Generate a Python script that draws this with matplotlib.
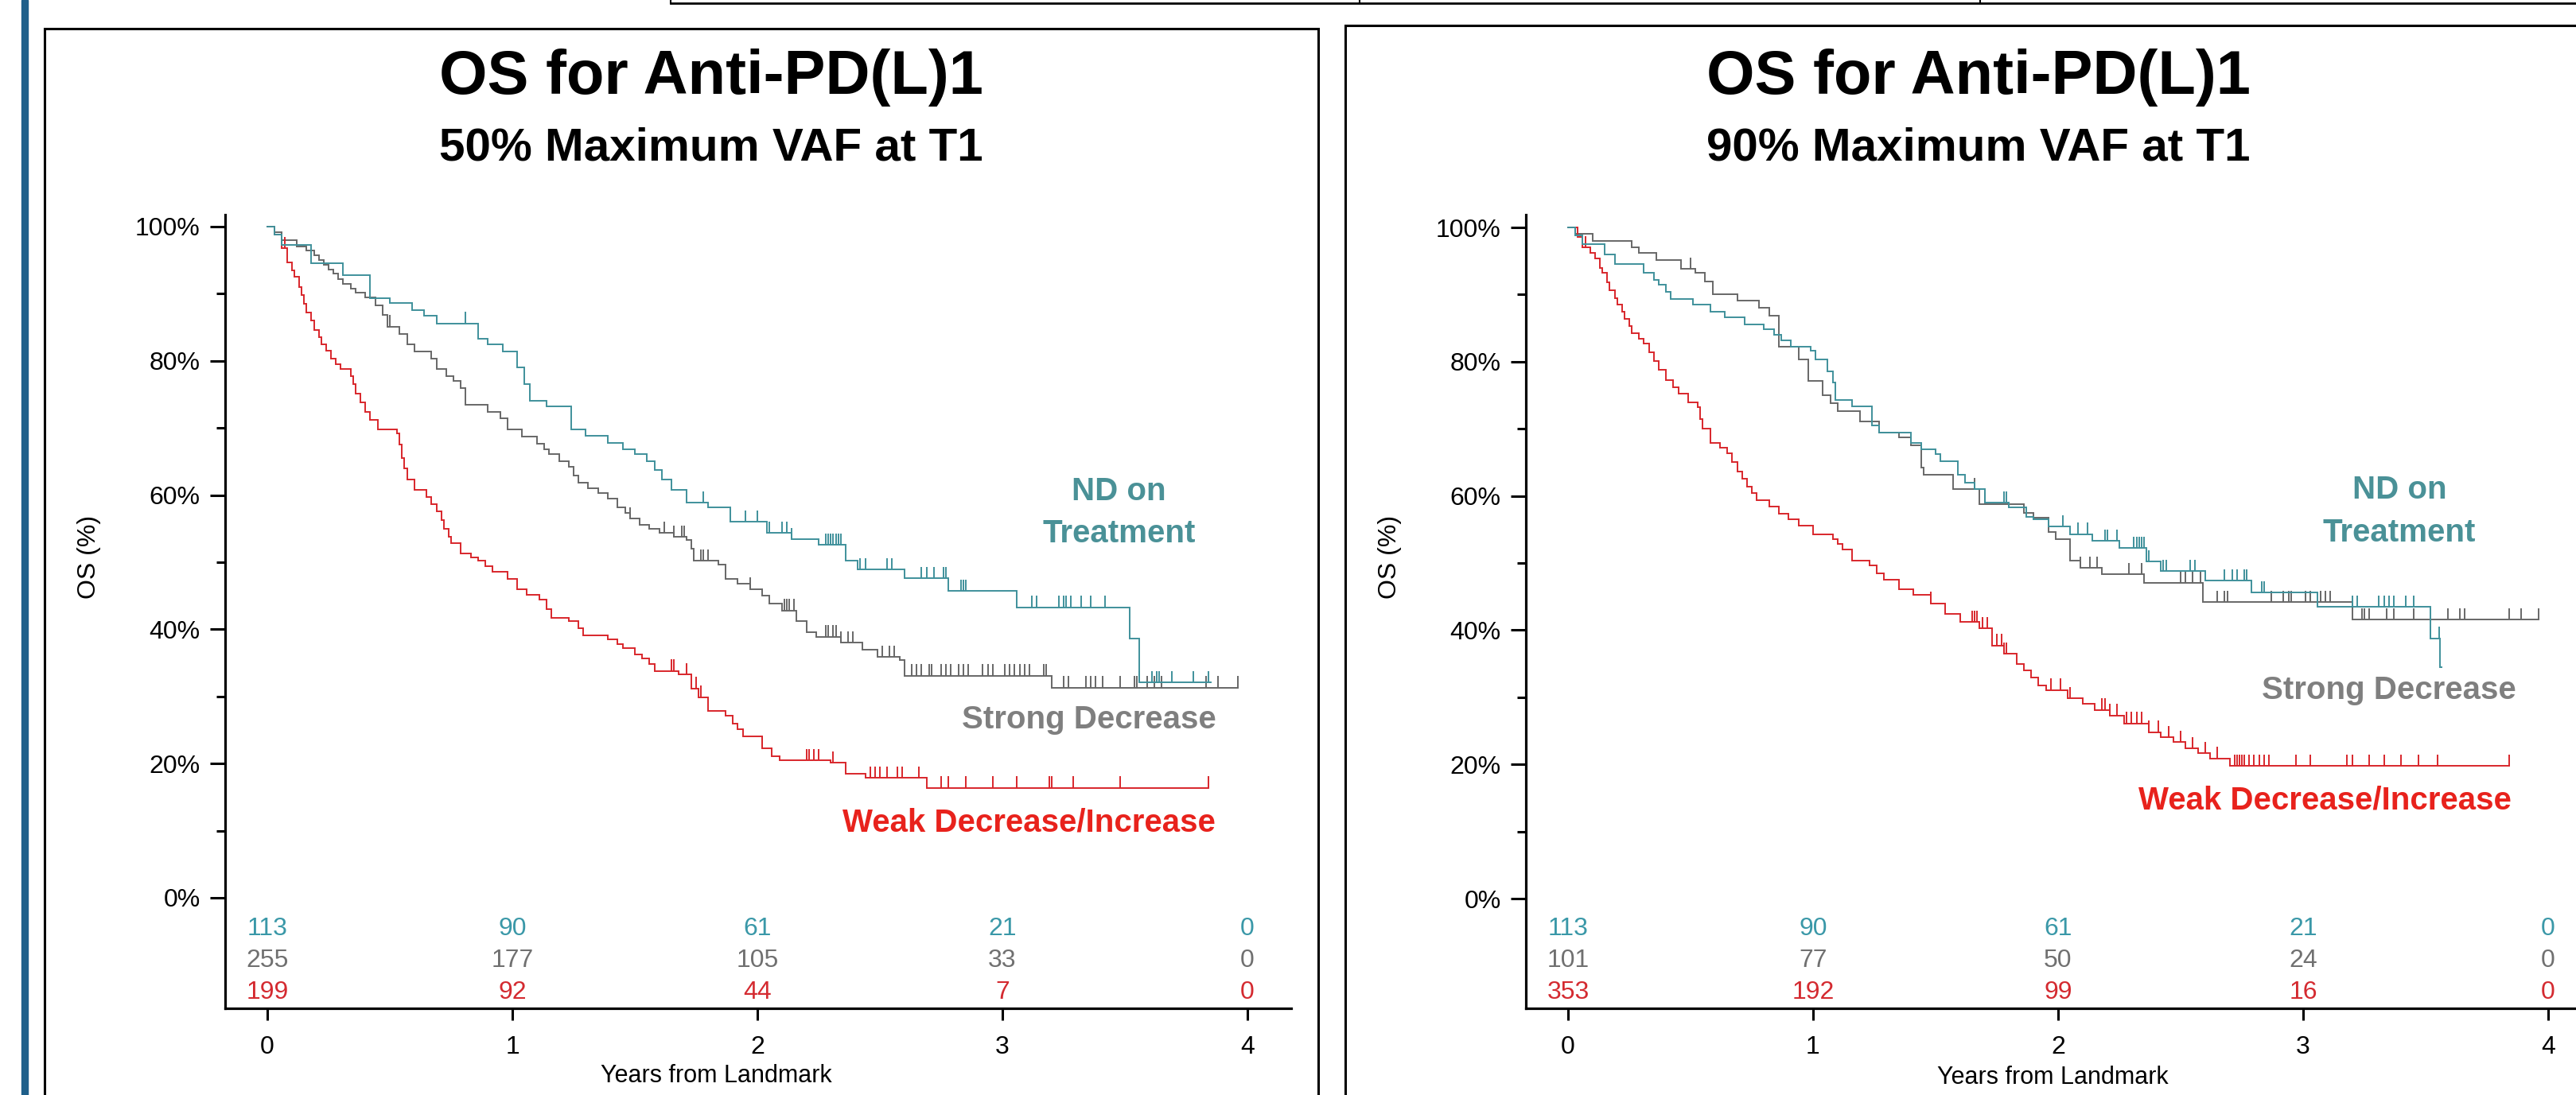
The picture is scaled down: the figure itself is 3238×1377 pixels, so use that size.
import numpy as np
import matplotlib
matplotlib.use("Agg")
import matplotlib.pyplot as plt
from matplotlib.patches import Rectangle
from matplotlib.lines import Line2D

plt.rcParams["font.family"] = ["Liberation Sans", "DejaVu Sans"]

W, H = 3238, 1377

# ---------------------------------
# Data: Kaplan-Meier steps (years, OS %)
# ---------------------------------
# Left panel: 50% Maximum VAF at T1
nd50_t = [0, 0.03, 0.06, 0.18, 0.31, 0.42, 0.50, 0.59, 0.64, 0.69, 0.86, 0.90, 0.96, 1.02, 1.05,
          1.07, 1.14, 1.24, 1.30, 1.39, 1.45, 1.50, 1.55, 1.58, 1.61, 1.65, 1.71, 1.80, 1.89, 2.04,
          2.14, 2.25, 2.36, 2.41, 2.60, 2.78, 3.06, 3.52, 3.56]
nd50_s = [100, 98.8, 97.3, 94.6, 92.8, 89.3, 88.6, 87.5, 86.7, 85.6, 83.3, 82.5, 81.4, 79.0, 76.5,
          74.0, 73.2, 69.8, 68.8, 67.8, 66.8, 66.1, 65.0, 63.7, 62.3, 60.8, 58.9, 58.2, 56.0, 54.4,
          53.4, 52.6, 50.2, 48.9, 47.6, 45.7, 43.3, 38.6, 32.1]
nd50_end = 3.85
nd50_cens = [0.81, 1.78, 1.95, 2.00, 2.05, 2.10, 2.12, 2.14, 2.28, 2.29, 2.30, 2.31, 2.32, 2.33,
             2.34, 2.42, 2.44, 2.53, 2.55, 2.67, 2.69, 2.72, 2.76, 2.77, 2.83, 2.84, 2.85, 3.12,
             3.14, 3.23, 3.25, 3.26, 3.28, 3.32, 3.36, 3.42, 3.56, 3.61, 3.63, 3.64, 3.69, 3.78, 3.84]

sd50_t = [0, 0.03, 0.06, 0.12, 0.16, 0.19, 0.21, 0.23, 0.25, 0.27, 0.29, 0.31, 0.34, 0.36, 0.40,
          0.44, 0.47, 0.49, 0.54, 0.57, 0.60, 0.67, 0.69, 0.73, 0.76, 0.79, 0.81, 0.90, 0.95, 0.98,
          1.04, 1.10, 1.13, 1.15, 1.19, 1.23, 1.25, 1.27, 1.31, 1.35, 1.39, 1.43, 1.46, 1.48, 1.52,
          1.56, 1.60, 1.66, 1.71, 1.73, 1.74, 1.84, 1.87, 1.92, 1.97, 2.02, 2.05, 2.10, 2.16, 2.20,
          2.24, 2.34, 2.43, 2.49, 2.58, 2.60, 3.20]
sd50_s = [100, 99.2, 98.0, 97.0, 96.5, 95.7, 95.0, 94.3, 93.6, 93.0, 92.2, 91.5, 90.8, 90.2, 89.4,
          88.3, 86.8, 85.1, 84.0, 82.5, 81.4, 80.3, 78.8, 77.7, 77.0, 76.0, 73.5, 72.4, 71.4, 69.8,
          68.7, 67.7, 66.8, 66.1, 65.0, 64.2, 62.9, 61.8, 61.0, 60.3, 59.5, 58.2, 57.3, 56.5, 55.6,
          55.0, 54.4, 53.8, 53.3, 52.0, 50.2, 49.6, 47.5, 46.8, 46.0, 45.0, 43.8, 42.8, 41.2, 39.6,
          38.9, 38.0, 37.0, 35.9, 35.4, 33.1, 31.3]
sd50_end = 3.96
sd50_cens = [0.50, 1.48, 1.62, 1.66, 1.69, 1.70, 1.77, 1.78, 1.80, 1.97, 2.11, 2.12, 2.13, 2.15,
             2.28, 2.29, 2.31, 2.32, 2.34, 2.37, 2.39, 2.51, 2.54, 2.56, 2.63, 2.65, 2.67, 2.70,
             2.71, 2.75, 2.77, 2.79, 2.82, 2.84, 2.86, 2.92, 2.94, 2.96, 3.01, 3.03, 3.05, 3.07,
             3.09, 3.11, 3.17, 3.18, 3.25, 3.27, 3.34, 3.36, 3.38, 3.41, 3.48, 3.54, 3.55, 3.59,
             3.62, 3.65, 3.83, 3.88, 3.96]

wd50_t = [0, 0.03, 0.06, 0.08, 0.10, 0.11, 0.13, 0.14, 0.15, 0.16, 0.18, 0.19, 0.21, 0.22, 0.24,
          0.26, 0.28, 0.30, 0.34, 0.35, 0.36, 0.38, 0.40, 0.42, 0.45, 0.53, 0.54, 0.55, 0.56, 0.57,
          0.60, 0.65, 0.67, 0.69, 0.71, 0.72, 0.74, 0.75, 0.79, 0.83, 0.86, 0.89, 0.92, 0.98, 1.02,
          1.06, 1.11, 1.14, 1.16, 1.23, 1.27, 1.29, 1.39, 1.43, 1.45, 1.50, 1.53, 1.56, 1.58, 1.68,
          1.73, 1.76, 1.80, 1.87, 1.90, 1.92, 1.94, 2.02, 2.06, 2.09, 2.30, 2.36, 2.44, 2.69]
wd50_s = [100, 98.8, 96.8, 94.7, 93.5, 92.5, 91.0, 89.8, 88.5, 87.2, 86.0, 84.6, 83.5, 82.5, 81.5,
          80.3, 79.5, 78.8, 77.7, 76.5, 75.1, 73.8, 72.4, 71.2, 69.8, 69.2, 67.5, 65.5, 64.0, 62.3,
          60.8, 59.7, 58.6, 57.6, 56.3, 55.0, 53.8, 52.8, 51.3, 50.7, 50.2, 49.4, 48.6, 47.5, 46.0,
          45.2, 44.4, 43.0, 41.7, 41.2, 40.2, 39.1, 38.5, 37.8, 37.2, 36.3, 35.7, 34.8, 33.8, 33.3,
          31.2, 29.9, 27.8, 27.1, 26.0, 25.1, 24.0, 22.3, 21.1, 20.5, 20.1, 18.5, 17.9, 16.4]
wd50_end = 3.84
wd50_cens = [0.07, 1.65, 1.66, 1.71, 1.75, 1.77, 2.02, 2.20, 2.21, 2.23, 2.25, 2.31, 2.46, 2.48,
             2.50, 2.53, 2.57, 2.59, 2.66, 2.75, 2.78, 2.85, 2.96, 3.06, 3.19, 3.20, 3.29, 3.48, 3.84]

# Right panel: 90% Maximum VAF at T1
nd90_t = [0, 0.03, 0.06, 0.15, 0.19, 0.31, 0.35, 0.37, 0.40, 0.42, 0.51, 0.58, 0.64, 0.72, 0.80,
          0.84, 0.87, 0.91, 0.99, 1.01, 1.06, 1.08, 1.09, 1.16, 1.24, 1.27, 1.40, 1.44, 1.50, 1.52,
          1.59, 1.62, 1.66, 1.70, 1.80, 1.87, 1.90, 1.96, 2.05, 2.14, 2.25, 2.36, 2.42, 2.60, 2.79,
          3.06, 3.52, 3.56]
nd90_s = [100, 98.8, 97.5, 96.0, 94.5, 93.2, 92.2, 91.5, 90.4, 89.3, 88.5, 87.4, 86.6, 85.6, 84.8,
          84.0, 83.2, 82.2, 81.6, 80.3, 78.5, 76.9, 74.3, 73.4, 70.5, 69.4, 67.9, 67.0, 66.2, 65.2,
          63.1, 62.0, 61.0, 59.0, 58.3, 56.9, 56.5, 55.4, 54.3, 53.3, 52.2, 50.2, 48.8, 47.4, 45.6,
          43.5, 38.8, 34.5]
nd90_end = 3.565
nd90_cens = [1.78, 1.79, 2.02, 2.08, 2.12, 2.19, 2.20, 2.24, 2.31, 2.32, 2.33, 2.34, 2.35, 2.37,
             2.43, 2.44, 2.54, 2.56, 2.68, 2.71, 2.73, 2.76, 2.77, 2.83, 2.84, 3.20, 3.22, 3.31,
             3.33, 3.35, 3.37, 3.42, 3.45, 3.52, 3.555]

sd90_t = [0, 0.03, 0.10, 0.26, 0.29, 0.36, 0.46, 0.52, 0.56, 0.59, 0.69, 0.78, 0.82, 0.86, 0.94,
          0.98, 1.04, 1.07, 1.10, 1.19, 1.27, 1.35, 1.40, 1.44, 1.45, 1.57, 1.68, 1.86, 1.90, 1.96,
          1.99, 2.05, 2.09, 2.18, 2.35, 2.59, 3.20]
sd90_s = [100, 99.0, 98.0, 97.0, 96.2, 95.1, 93.8, 93.2, 91.9, 90.1, 89.1, 88.0, 86.9, 82.2, 80.3,
          77.1, 75.0, 73.8, 72.6, 71.1, 69.4, 68.7, 67.5, 64.2, 63.1, 61.0, 58.8, 57.5, 56.7, 54.6,
          53.5, 50.4, 49.3, 48.3, 47.0, 44.2, 41.6]
sd90_end = 3.96
sd90_cens = [0.50, 1.66, 1.70, 2.09, 2.13, 2.16, 2.29, 2.34, 2.50, 2.52, 2.55, 2.58, 2.65, 2.68,
             2.69, 2.87, 2.92, 2.94, 2.95, 3.01, 3.03, 3.07, 3.09, 3.11, 3.24, 3.25, 3.27, 3.34,
             3.37, 3.45, 3.59, 3.64, 3.66, 3.84, 3.89, 3.96]

wd90_t = [0, 0.04, 0.06, 0.09, 0.11, 0.13, 0.14, 0.16, 0.17, 0.19, 0.20, 0.22, 0.23, 0.25, 0.26,
          0.29, 0.31, 0.33, 0.35, 0.37, 0.40, 0.43, 0.45, 0.49, 0.53, 0.54, 0.55, 0.58, 0.62, 0.65,
          0.67, 0.69, 0.71, 0.73, 0.75, 0.77, 0.82, 0.86, 0.90, 0.94, 1.00, 1.08, 1.10, 1.12, 1.16,
          1.23, 1.26, 1.29, 1.35, 1.41, 1.48, 1.54, 1.60, 1.68, 1.73, 1.78, 1.83, 1.86, 1.89, 1.92,
          1.95, 2.04, 2.10, 2.15, 2.21, 2.27, 2.37, 2.42, 2.47, 2.52, 2.57, 2.62, 2.70]
wd90_s = [100, 98.6, 97.0, 96.2, 95.4, 94.0, 93.2, 91.8, 90.6, 89.5, 88.5, 87.4, 86.4, 85.3, 84.2,
          83.4, 82.7, 81.4, 80.1, 78.8, 77.3, 76.2, 75.2, 73.9, 73.2, 71.5, 70.0, 67.9, 67.2, 66.3,
          65.0, 63.6, 62.5, 61.4, 60.4, 59.4, 58.4, 57.3, 56.5, 55.6, 54.3, 53.5, 52.8, 52.0, 50.4,
          49.6, 48.5, 47.5, 46.1, 45.3, 44.0, 42.4, 41.2, 40.3, 37.7, 36.5, 35.0, 34.0, 32.9, 31.8,
          31.1, 29.8, 29.0, 28.1, 27.3, 26.1, 24.8, 24.0, 23.3, 22.4, 21.7, 20.9, 19.8]
wd90_end = 3.84
wd90_cens = [0.07, 1.48, 1.65, 1.66, 1.67, 1.69, 1.71, 1.75, 1.77, 1.78, 1.79, 1.97, 2.01, 2.05,
             2.18, 2.19, 2.21, 2.24, 2.28, 2.30, 2.32, 2.34, 2.37, 2.41, 2.45, 2.50, 2.55, 2.60,
             2.65, 2.72, 2.73, 2.74, 2.75, 2.76, 2.78, 2.80, 2.82, 2.84, 2.86, 2.97, 3.03, 3.18,
             3.20, 3.27, 3.33, 3.40, 3.47, 3.55, 3.84]

# Numbers at risk (years 0-4)
risk_years = [0, 1, 2, 3, 4]
risk50_nd = [113, 90, 61, 21, 0]
risk50_sd = [255, 177, 105, 33, 0]
risk50_wd = [199, 92, 44, 7, 0]
risk90_nd = [113, 90, 61, 21, 0]
risk90_sd = [101, 77, 50, 24, 0]
risk90_wd = [353, 192, 99, 16, 0]

# Colours
TEAL, GREY, RED = "#3f919b", "#676767", "#d8262b"
TEAL_TXT, GREY_TXT, RED_TXT = "#4a9197", "#7f7f7f", "#e8221c"
TEAL_NUM, GREY_NUM, RED_NUM = "#3a98a8", "#707070", "#d42a30"


def fx(px):
    return px / W


def fy(py):
    return 1 - py / H


def draw_km(ax, times, surv, end, cens, color):
    t = list(times) + [end]
    s = list(surv) + [surv[-1]]
    ax.step(t, s, where="post", color=color, lw=1.4, solid_joinstyle="miter")
    idx = np.searchsorted(times, cens, side="right") - 1
    ys = np.array(surv)[idx]
    ax.vlines(cens, ys, ys + 1.7, color=color, lw=1.4)


def draw_panel(x_axis_px, zero_px, curves, risks):
    ax = fig.add_axes([fx(x_axis_px), fy(1268), 1340 / W, 998 / H])
    px_year = 308.0
    px_pct = 8.44
    x0 = -53 / px_year
    ax.set_xlim(x0, x0 + 1340 / px_year)
    ax.set_ylim((zero_px - 1268) / px_pct, (zero_px - 270) / px_pct)

    for times, surv, end, cens, color in curves:
        draw_km(ax, times, surv, end, cens, color)

    row_y = [(zero_px - 1168) / px_pct, (zero_px - 1208) / px_pct, (zero_px - 1248) / px_pct]
    for counts, yy, col in zip(risks, row_y, [TEAL_NUM, GREY_NUM, RED_NUM]):
        for xv, n in zip(risk_years, counts):
            ax.text(xv, yy, str(n), ha="center", va="center", color=col, fontsize=23)

    for side in ["top", "right"]:
        ax.spines[side].set_visible(False)
    for side in ["left", "bottom"]:
        ax.spines[side].set_linewidth(2.3)
    ax.set_xticks(risk_years)
    ax.set_xticklabels([str(v) for v in risk_years])
    ax.set_yticks([0, 20, 40, 60, 80, 100])
    ax.set_yticklabels(["0%", "20%", "40%", "60%", "80%", "100%"])
    ax.set_yticks([10, 30, 50, 70, 90], minor=True)
    ax.tick_params(axis="x", length=10.5, width=2.2, pad=14, labelsize=23)
    ax.tick_params(axis="y", which="major", length=13.5, width=2.2, pad=9, labelsize=23)
    ax.tick_params(axis="y", which="minor", length=8, width=2.2)
    ax.patch.set_alpha(0)
    return ax


fig = plt.figure(figsize=(W / 100, H / 100), dpi=100)

# frame decorations of the slide
fig.patches.append(Rectangle((fx(27), 0), 8 / W, 1, transform=fig.transFigure,
                             color="#1f5f8a", zorder=0))
fig.patches.append(Rectangle((fx(56), fy(1400)), (1657 - 56) / W, (1400 - 36) / H,
                             transform=fig.transFigure, fill=False, lw=2.2, ec="black"))
fig.patches.append(Rectangle((fx(1691), fy(1400)), (3320 - 1691) / W, (1400 - 32) / H,
                             transform=fig.transFigure, fill=False, lw=2.2, ec="black"))
fig.lines.append(Line2D([fx(843), 1], [fy(4), fy(4)], transform=fig.transFigure, color="black", lw=2))
for xd in [843, 1709, 2489]:
    fig.lines.append(Line2D([fx(xd), fx(xd)], [1, fy(4)], transform=fig.transFigure,
                            color="black", lw=1.5))

# left panel
draw_panel(283, 1129,
           [(sd50_t, sd50_s, sd50_end, sd50_cens, GREY),
            (wd50_t, wd50_s, wd50_end, wd50_cens, RED),
            (nd50_t, nd50_s, nd50_end, nd50_cens, TEAL)],
           [risk50_nd, risk50_sd, risk50_wd])
# right panel
draw_panel(1918, 1130,
           [(sd90_t, sd90_s, sd90_end, sd90_cens, GREY),
            (wd90_t, wd90_s, wd90_end, wd90_cens, RED),
            (nd90_t, nd90_s, nd90_end, nd90_cens, TEAL)],
           [risk90_nd, risk90_sd, risk90_wd])

# titles
for cx, sub in [(894, "50% Maximum VAF at T1"), (2487, "90% Maximum VAF at T1")]:
    fig.text(fx(cx), fy(118), "OS for Anti-PD(L)1", ha="center", va="baseline",
             fontsize=56, fontweight="bold")
    fig.text(fx(cx), fy(201), sub, ha="center", va="baseline", fontsize=42, fontweight="bold")

# axis labels
fig.text(fx(112), fy(700), "OS (%)", rotation=90, ha="center", va="center", fontsize=23)
fig.text(fx(1747), fy(700), "OS (%)", rotation=90, ha="center", va="center", fontsize=23)
fig.text(fx(900), fy(1338), "Years from Landmark", ha="center", va="top", fontsize=22)
fig.text(fx(2580), fy(1340), "Years from Landmark", ha="center", va="top", fontsize=22)

# curve labels
lab = dict(fontsize=29, fontweight="bold")
fig.text(fx(1406), fy(629), "ND on", ha="center", va="baseline", color=TEAL_TXT, **lab)
fig.text(fx(1407), fy(682), "Treatment", ha="center", va="baseline", color=TEAL_TXT, **lab)
fig.text(fx(1529), fy(916), "Strong Decrease", ha="right", va="baseline", color=GREY_TXT, **lab)
fig.text(fx(1528), fy(1045), "Weak Decrease/Increase", ha="right", va="baseline", color=RED_TXT, **lab)

fig.text(fx(3016), fy(627), "ND on", ha="center", va="baseline", color=TEAL_TXT, **lab)
fig.text(fx(3016), fy(681), "Treatment", ha="center", va="baseline", color=TEAL_TXT, **lab)
fig.text(fx(3003), fy(879), "Strong Decrease", ha="center", va="baseline", color=GREY_TXT, **lab)
fig.text(fx(2922), fy(1018), "Weak Decrease/Increase", ha="center", va="baseline", color=RED_TXT, **lab)

fig.savefig("out.png", dpi=100, facecolor="white")
